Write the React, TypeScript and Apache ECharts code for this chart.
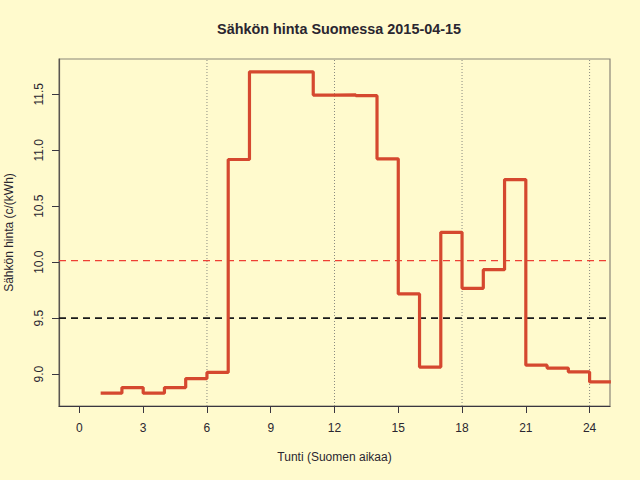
import React, { useEffect, useRef } from "react";
import * as echarts from "echarts";

const hours = [1, 2, 3, 4, 5, 6, 7, 8, 9, 10, 11, 12, 13, 14, 15, 16, 17, 18, 19, 20, 21, 22, 23, 24];
const prices = [8.83, 8.88, 8.83, 8.88, 8.96, 9.015, 10.917, 11.70, 11.70, 11.70, 11.493, 11.495, 11.487, 10.923, 9.716, 9.063, 10.267, 9.766, 9.933, 10.738, 9.08, 9.054, 9.02, 8.93];
const xTicks = [0, 3, 6, 9, 12, 15, 18, 21, 24];
const yTicks = [9.0, 9.5, 10.0, 10.5, 11.0, 11.5];
const guideHours = [6, 12, 18, 24];
const meanPrice = 10.013;
const refPrice = 9.5;

const BG = "#FFFACD";
const TXT = "#2a2630";

export default function App() {
  const ref = useRef<HTMLDivElement>(null);
  useEffect(() => {
    if (!ref.current) return;
    const chart = echarts.init(ref.current, null, { renderer: "svg" });
    const stepData: number[][] = hours.map((h, i) => [h, prices[i]]);
    stepData.push([hours[hours.length - 1] + 1, prices[prices.length - 1]]);
    const xMin = 0 - 0.04 * 24;
    const xMax = 24 + 0.04 * 24;
    const pMin = Math.min(...prices);
    const pMax = Math.max(...prices);
    const yMin = pMin - 0.04 * (pMax - pMin);
    const yMax = pMax + 0.04 * (pMax - pMin);
    const hLine = (val: number, color: string, type: any, width: number) => ({
      type: "line",
      data: [
        [xMin, val],
        [xMax, val],
      ],
      symbol: "none",
      showSymbol: false,
      silent: true,
      lineStyle: { color, type, width },
      z: 2,
    });
    const vLine = (h: number) => ({
      type: "line",
      data: [
        [h, yMin],
        [h, yMax],
      ],
      symbol: "none",
      showSymbol: false,
      silent: true,
      lineStyle: { color: "#8a8a80", type: [1, 2], width: 1 },
      z: 1,
    });
    chart.setOption({
      animation: false,
      backgroundColor: BG,
      title: {
        text: "Sähkön hinta Suomessa 2015-04-15",
        left: 334,
        top: 17,
        textAlign: "center",
        textStyle: { fontFamily: "Liberation Sans", fontSize: 14.4, fontWeight: "bold", color: TXT },
      },
      grid: {
        left: 59,
        right: 30,
        top: 59,
        bottom: 74,
        outerBoundsMode: "none",
        containLabel: false,
        show: true,
        backgroundColor: BG,
        borderColor: "#8a8578",
        borderWidth: 1.2,
      },
      xAxis: {
        type: "value",
        min: xMin,
        max: xMax,
        name: "Tunti (Suomen aikaa)",
        nameLocation: "middle",
        nameGap: 45,
        nameTextStyle: { fontFamily: "Liberation Sans", fontSize: 12, color: TXT },
        axisLine: { show: true, onZero: false, lineStyle: { color: "#3a3640", width: 1.2 } },
        axisTick: { show: true, length: 7, customValues: xTicks, lineStyle: { color: "#3a3640" } },
        axisLabel: {
          customValues: xTicks,
          margin: 16,
          fontFamily: "Liberation Sans",
          fontSize: 12,
          color: TXT,
          formatter: (v: number) => String(v),
        },
        splitLine: { show: false },
      },
      yAxis: {
        type: "value",
        min: yMin,
        max: yMax,
        name: "Sähkön hinta (c/(kWh)",
        nameLocation: "middle",
        nameGap: 44,
        nameTextStyle: { fontFamily: "Liberation Sans", fontSize: 12, color: TXT },
        axisLine: { show: true, onZero: false, lineStyle: { color: "#5a5650", width: 1.2 } },
        axisTick: { show: true, length: 7, customValues: yTicks, lineStyle: { color: "#3a3640" } },
        axisLabel: {
          customValues: yTicks,
          rotate: 90,
          margin: 14,
          fontFamily: "Liberation Sans",
          fontSize: 12,
          color: TXT,
          formatter: (v: number) => v.toFixed(1),
        },
        splitLine: { show: false },
      },
      series: [
        ...guideHours.map(vLine),
        hLine(meanPrice, "#EE4035", [7, 5], 1.3),
        hLine(refPrice, "#1a1a1a", [7, 5], 1.6),
        {
          type: "line",
          step: "end",
          data: stepData,
          showSymbol: false,
          symbol: "none",
          clip: true,
          lineStyle: { color: "#D5482F", width: 3.2 },
          z: 3,
        },
      ],
    });
    return () => chart.dispose();
  }, []);
  return <div ref={ref} style={{ width: 640, height: 480, position: "absolute", left: 0, top: 0 }} />;
}
